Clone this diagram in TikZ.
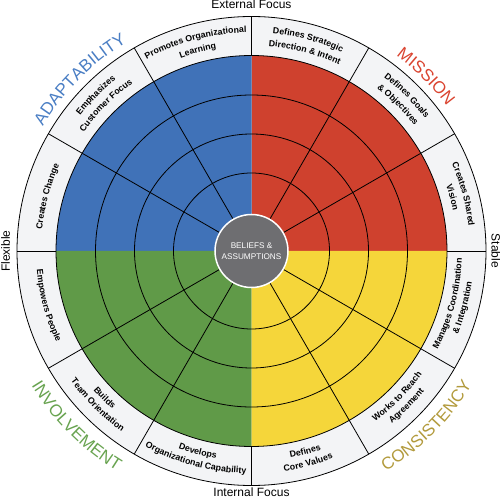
\documentclass[tikz,border=0pt]{standalone}
\usepackage{fontspec}
\setmainfont{Liberation Sans}
\usetikzlibrary{decorations.text}
\definecolor{adaptBlue}    {RGB}{ 64,114,184}
\definecolor{missionRed}   {RGB}{207, 65, 46}
\definecolor{involveGreen} {RGB}{ 96,154, 72}
\definecolor{consistYellow}{RGB}{245,214, 58}
\definecolor{ringGray}     {RGB}{243,244,246}
\definecolor{coreGray}     {RGB}{110,110,113}
\definecolor{adaptText}    {RGB}{ 74,126,196}
\definecolor{missionText}  {RGB}{218, 68, 48}
\definecolor{involveText}  {RGB}{104,163, 80}
\definecolor{consistText}  {RGB}{178,154, 60}
\newcommand{\lblFont}{\bfseries\fontsize{8.8}{10}\selectfont}
\newcommand{\bigFont}{\fontsize{17}{20}\selectfont}
% ring labels: upper half read clockwise, lower half counter-clockwise
\newcommand{\upLbl}[3]{\path[decorate,decoration={text along path,text align=center,
    text={|\lblFont|#3}}] (#1+40:#2) arc[start angle=#1+40,end angle=#1-40,radius=#2];}
\newcommand{\loLbl}[3]{\path[decorate,decoration={text along path,text align=center,
    text={|\lblFont|#3}}] (#1-40:#2) arc[start angle=#1-40,end angle=#1+40,radius=#2];}
\newcommand{\upBig}[4]{\path[decorate,decoration={text along path,text align=center,
    text color=#3,text={|\bigFont|#4}}] (#1+60:#2) arc[start angle=#1+60,end angle=#1-60,radius=#2];}
\newcommand{\loBig}[4]{\path[decorate,decoration={text along path,text align=center,
    text color=#3,text={|\bigFont|#4}}] (#1-60:#2) arc[start angle=#1-60,end angle=#1+60,radius=#2];}

\begin{document}
\begin{tikzpicture}[x=1pt,y=1pt,
    gridline/.style={black, line width=0.8pt},
    coreDisk/.style={circle, fill=coreGray, draw=white, line width=1.5pt,
      minimum size=73pt, inner sep=0pt, text=white, align=center,
      font=\fontsize{8.2}{11}\selectfont},
    axisLbl/.style={inner sep=0pt, font=\fontsize{12}{14}\selectfont}]
  \useasboundingbox (-251.5,-249) rectangle (248.5,251);
  % ring and quadrants
  \fill[ringGray] (0,0) circle[radius=234.5];
  \fill[missionRed]    (0,0) -- (0:195.5)   arc[start angle=0,  end angle=90, radius=195.5] -- cycle;
  \fill[adaptBlue]     (0,0) -- (90:195.5)  arc[start angle=90, end angle=180,radius=195.5] -- cycle;
  \fill[involveGreen]  (0,0) -- (180:195.5) arc[start angle=180,end angle=270,radius=195.5] -- cycle;
  \fill[consistYellow] (0,0) -- (270:195.5) arc[start angle=270,end angle=360,radius=195.5] -- cycle;
  \foreach \r in {78,117,156,195.5,234.5}
    \draw[gridline] (0,0) circle[radius=\r];
  \foreach \a in {30,60,120,150,210,240,300,330}
    \draw[gridline] (\a:36.5) -- (\a:234.5);
  \foreach \a in {0,90,180,270}
    \draw[gridline] (\a:195.5) -- (\a:234.5);
  \node[coreDisk] (core) at (0,0) {BELIEFS \&\\ASSUMPTIONS};

  % ring labels
  \upLbl{105}{218.5}{Promotes Organizational}
  \upLbl{105}{205.5}{Learning}
  \upLbl{75}{218.5}{Defines Strategic}
  \upLbl{75}{205.5}{Direction {\&} Intent}
  \upLbl{45}{218.5}{Defines Goals}
  \upLbl{45}{205.5}{{\&} Objectives}
  \upLbl{15}{218.5}{Creates Shared}
  \upLbl{15}{205.5}{Vision}
  \upLbl{135}{218.5}{Emphasizes}
  \upLbl{135}{205.5}{Customer Focus}
  \upLbl{165}{210.5}{Creates Change}
  \loLbl{195}{215.5}{Empowers People}
  \loLbl{225}{210.5}{Builds}
  \loLbl{225}{222.5}{Team Orientation}
  \loLbl{255}{210.5}{Develops}
  \loLbl{255}{222.5}{Organizational Capability}
  \loLbl{285}{210.5}{Defines}
  \loLbl{285}{222.5}{Core Values}
  \loLbl{315}{210.5}{Works to Reach}
  \loLbl{315}{222.5}{Agreement}
  \loLbl{345}{210.5}{Manages Coordination}
  \loLbl{345}{222.5}{{\&} Integration}

  % culture traits
  \upBig{135}{243}{adaptText}{ADAPTABILITY}
  \upBig{45}{243}{missionText}{MISSION}
  \loBig{225}{258}{involveText}{INVOLVEMENT}
  \loBig{315}{258}{consistText}{CONSISTENCY}

  % axes
  \node[axisLbl] (ext)  at (0,246.3)  {External Focus};
  \node[axisLbl] (int)  at (0,-241.7) {Internal Focus};
  \node[axisLbl, rotate=90]  (flex) at (-246,0)  {Flexible};
  \node[axisLbl, rotate=-90] (stab) at (244.5,0) {Stable};
\end{tikzpicture}
\end{document}
